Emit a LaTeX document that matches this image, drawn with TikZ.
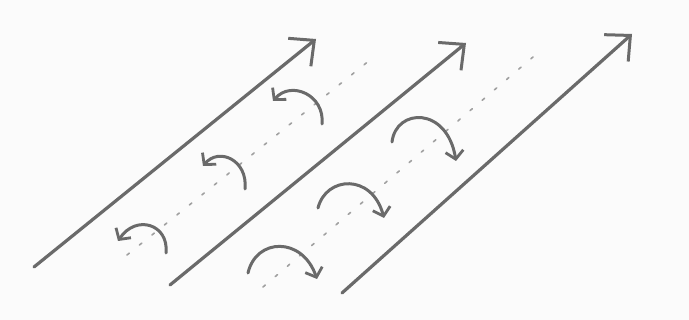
\documentclass[tikz,border=0pt]{standalone}
\usepackage{tikz}
\usetikzlibrary{arrows.meta}
\definecolor{skpencil}{HTML}{6A6A6A}
\definecolor{skpaper}{HTML}{FBFBFB}
\definecolor{skdots}{HTML}{A0A0A0}

\begin{document}
\begin{tikzpicture}[x=1pt,y=-1pt,
    lane/.style={draw=skpencil,line width=3.2pt,line cap=round,-{Straight Barb[length=19pt,width=36pt,line width=3pt]}},
    turn/.style={draw=skpencil,line width=3pt,line cap=round,-{Straight Barb[length=8pt,width=18pt,line width=2.8pt]}},
    trail/.style={draw=skdots,line width=1.6pt,line cap=round,dash pattern=on 3pt off 13pt}]
      \fill[skpaper] (0,0) rectangle (689,320);
      \useasboundingbox (0,0) rectangle (689,320);
      % long lanes
      \coordinate (laneAs) at (34,267);
      \coordinate (laneAe) at (316,39);
      \coordinate (laneBs) at (170,285);
      \coordinate (laneBe) at (466,43);
      \coordinate (laneCs) at (342,293);
      \coordinate (laneCe) at (632,34);
      \draw[lane] (laneAs) -- (laneAe);
      \draw[lane] (laneBs) -- (laneBe);
      \draw[lane] (laneCs) -- (laneCe);
      % dotted trails
      \coordinate (trailAs) at (127,255);
      \coordinate (trailAe) at (370,60);
      \coordinate (trailBs) at (263,287);
      \coordinate (trailBe) at (533,57);
      \draw[trail] (trailAs) -- (trailAe);
      \draw[trail] (trailBs) -- (trailBe);
      % turning arrows, upper band
      \coordinate (turnAs) at (166,253);
      \coordinate (turnAe) at (118,241);
      \coordinate (turnBs) at (245,189);
      \coordinate (turnBe) at (203,166);
      \coordinate (turnCs) at (322,124);
      \coordinate (turnCe) at (273,101);
      \draw[turn] (turnAs) .. controls (169,224) and (136,214) .. (turnAe);
      \draw[turn] (turnBs) .. controls (248,160) and (219,147) .. (turnBe);
      \draw[turn] (turnCs) .. controls (325,95) and (291,80) .. (turnCe);
      % turning arrows, lower band
      \coordinate (turnDs) at (248,273);
      \coordinate (turnDe) at (317,279);
      \coordinate (turnEs) at (318,208);
      \coordinate (turnEe) at (384,218);
      \coordinate (turnFs) at (392,142);
      \coordinate (turnFe) at (456,161);
      \draw[turn] (turnDs) .. controls (256,238) and (302,236) .. (turnDe);
      \draw[turn] (turnEs) .. controls (326,176) and (372,173) .. (turnEe);
      \draw[turn] (turnFs) .. controls (396,108) and (447,106) .. (turnFe);
    \end{tikzpicture}
\end{document}
